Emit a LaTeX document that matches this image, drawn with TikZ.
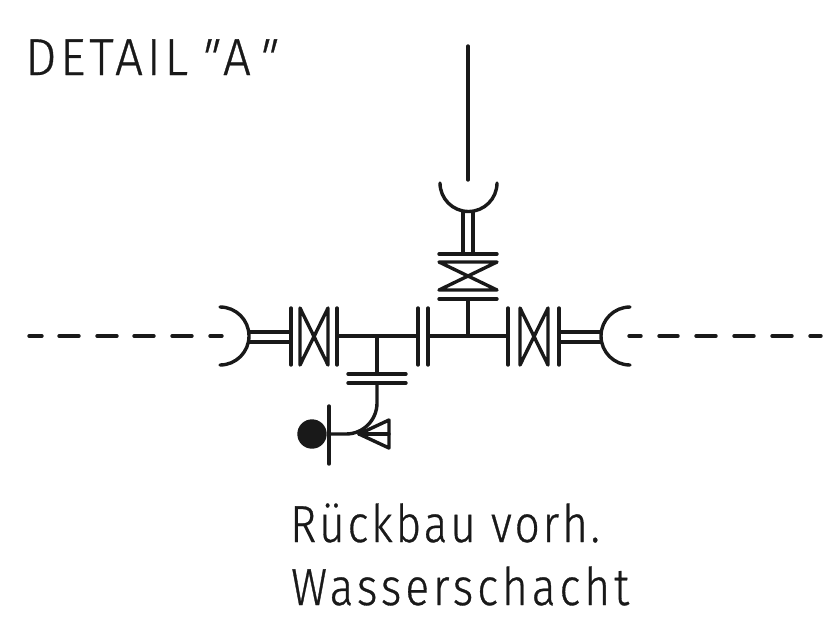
\documentclass[tikz,border=0pt]{standalone}
\usepackage{fontspec}
\newfontfamily\drawfontA[LetterSpace=7.3,FakeStretch=0.95,FakeBold=0.6]{Fira Sans Light}
\newfontfamily\drawfontB[LetterSpace=5.5,FakeStretch=0.85,FakeBold=0.6]{Fira Sans Light}
\newfontfamily\drawfontC[LetterSpace=7.7,FakeStretch=0.85,FakeBold=0.6]{Fira Sans Light}
\definecolor{ink}{gray}{0.1}
\tikzset{x=1pt,y=-1pt,
  pipe/.style={line width=3.4pt,line cap=round,line join=round,color=ink},
  label/.style={anchor=base west,inner sep=0pt,text=ink}}
\newcommand{\dashseg}[2]{\draw[pipe] (#1,336) -- (#2,336);}
\newcommand{\slq}{{\addfontfeature{FakeSlant=0.25}"}}
\begin{document}
\begin{tikzpicture}
\useasboundingbox (0,0) rectangle (826,630);
% dashed run, left and right
\foreach \a/\b in {29/42,59/79,97/117,134/154,172/192,210/222,629/641,659/678,696/716,734/754,772/792,810/821}{\dashseg{\a}{\b}}
% top riser
\draw[pipe] (468,46) -- (468,180);
\draw[pipe] (440,183) arc[start angle=180,end angle=0,radius=28.5];
\draw[pipe] (463,212) -- (463,253) (473,212) -- (473,253);
\draw[pipe] (439,254) -- (497,254);
\draw[pipe] (439,262) -- (497,262) -- (439,290) -- (497,290) -- cycle;
\draw[pipe] (439,299) -- (497,299);
\draw[pipe] (468,299) -- (468,336);
% left socket and valve
\draw[pipe] (220,307) arc[start angle=-90,end angle=90,radius=29];
\draw[pipe] (249,332) -- (291,332) (249,342) -- (291,342);
\draw[pipe] (291,308) -- (291,365);
\draw[pipe] (300,308) -- (328,365) -- (328,308) -- (300,365) -- cycle;
\draw[pipe] (337,308) -- (337,365);
\draw[pipe] (337,336) -- (417,336);
\draw[pipe] (418,308) -- (418,365);
\draw[pipe] (428,308) -- (428,365);
\draw[pipe] (428,336) -- (508,336);
% right valve and socket
\draw[pipe] (508,308) -- (508,365);
\draw[pipe] (520,308) -- (548,365) -- (548,308) -- (520,365) -- cycle;
\draw[pipe] (559,308) -- (559,365);
\draw[pipe] (559,332) -- (601,332) (559,342) -- (601,342);
\draw[pipe] (630,307) arc[start angle=-90,end angle=-270,radius=29];
% branch down
\draw[pipe] (377,336) -- (377,374);
\draw[pipe] (348,374) -- (406,374) (348,383) -- (406,383);
\draw[pipe] (377,383) -- (377,403) arc[start angle=0,end angle=90,radius=31] -- (329,434);
\draw[pipe] (329,406) -- (329,464);
\fill[ink] (312,434) circle[radius=14.7];
\draw[pipe] (359,434) -- (389,420) -- (389,448) -- cycle;
\draw[pipe] (359,434) -- (389,434);
% labels
\node[label,font=\drawfontA\fontsize{52}{52}\selectfont] (detail) at (25,75) {DETAIL\kern8pt\slq\kern9pt A\kern3pt\slq};
\node[label,font=\drawfontB\fontsize{52}{52}\selectfont] (rueck) at (290,542) {Rückbau vorh.};
\node[label,font=\drawfontC\fontsize{52}{52}\selectfont] (wasser) at (291,605) {Wasserschacht};
\end{tikzpicture}
\end{document}
